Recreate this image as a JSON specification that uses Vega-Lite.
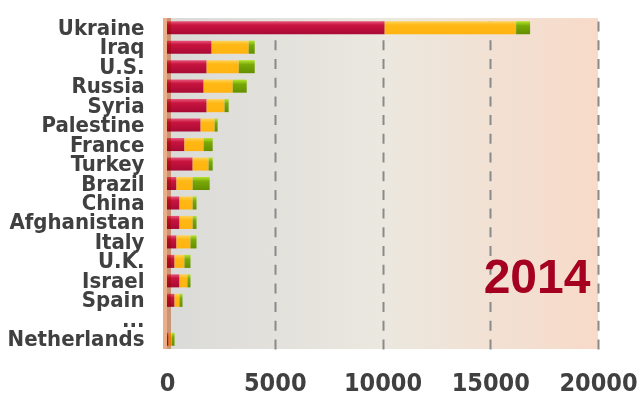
{
  "$schema": "https://vega.github.io/schema/vega-lite/v6.json",
  "autosize": "none",
  "width": 431,
  "height": 331,
  "padding": {"left": 167, "top": 18, "right": 41, "bottom": 46},
  "background": "white",
  "config": {
    "view": {
      "stroke": null,
      "fill": {"gradient": "linear", "x1": 0, "y1": 0, "x2": 1, "y2": 0,
        "stops": [
          {"offset": 0, "color": "#dadad8"},
          {"offset": 0.5, "color": "#ebe8df"},
          {"offset": 1, "color": "#f8dac8"}
        ]}
    },
    "axisY": {
      "title": null, "ticks": false, "domain": false, "grid": false,
      "labelFont": "DejaVu Sans Condensed", "labelFontWeight": "bold", "labelFontSize": 22,
      "labelColor": "#404040", "labelPadding": 23, "labelOverlap": false
    }
  },
  "datasets": {
    "bars": [
      {"country": "Ukraine", "s1": 10100, "s2": 16200, "s3": 16850},
      {"country": "Iraq", "s1": 2070, "s2": 3790, "s3": 4070},
      {"country": "U.S.", "s1": 1840, "s2": 3330, "s3": 4070},
      {"country": "Russia", "s1": 1700, "s2": 3050, "s3": 3700},
      {"country": "Syria", "s1": 1840, "s2": 2670, "s3": 2860},
      {"country": "Palestine", "s1": 1560, "s2": 2210, "s3": 2350},
      {"country": "France", "s1": 810, "s2": 1700, "s3": 2120},
      {"country": "Turkey", "s1": 1190, "s2": 1930, "s3": 2120},
      {"country": "Brazil", "s1": 440, "s2": 1190, "s3": 1980},
      {"country": "China", "s1": 580, "s2": 1190, "s3": 1370},
      {"country": "Afghanistan", "s1": 580, "s2": 1190, "s3": 1370},
      {"country": "Italy", "s1": 440, "s2": 1090, "s3": 1370},
      {"country": "U.K.", "s1": 350, "s2": 810, "s3": 1090},
      {"country": "Israel", "s1": 580, "s2": 950, "s3": 1090},
      {"country": "Spain", "s1": 350, "s2": 580, "s3": 720},
      {"country": "Netherlands", "s1": 70, "s2": 210, "s3": 350}
    ],
    "one": [{"year": "2014", "zero": 0, "pos": 19650, "row": "Israel"}]
  },
  "layer": [
    {
      "data": {"name": "bars"},
      "mark": {"type": "bar", "color": {"gradient": "linear", "x1": 0, "y1": 0, "x2": 0, "y2": 1,
        "stops": [
          {"offset": 0, "color": "#e8567a"},
          {"offset": 0.3, "color": "#c8143f"},
          {"offset": 1, "color": "#a80a35"}
        ]}},
      "encoding": {
        "y": {
          "field": "country", "type": "nominal",
          "scale": {
            "domain": ["Ukraine", "Iraq", "U.S.", "Russia", "Syria", "Palestine", "France", "Turkey", "Brazil", "China", "Afghanistan", "Italy", "U.K.", "Israel", "Spain", "...", "Netherlands"],
            "paddingInner": 0.33, "paddingOuter": 0.165
          }
        },
        "x": {"field": "s1", "type": "quantitative", "stack": null,
          "scale": {"domain": [0, 20000], "nice": false},
          "axis": {
            "title": null, "values": [0, 5000, 10000, 15000, 20000], "format": "d",
            "ticks": false, "domain": false, "labelFlush": false,
            "labelFont": "DejaVu Sans Condensed", "labelFontWeight": "bold", "labelFontSize": 25,
            "labelColor": "#404040", "labelPadding": 21,
            "grid": true, "gridColor": "#8a8a8a", "gridWidth": 2, "gridDash": [10, 8.7],
            "gridOpacity": {"condition": {"test": "datum.value === 0", "value": 0}, "value": 1}
          }}
      }
    },
    {
      "data": {"name": "bars"},
      "mark": {"type": "bar", "color": {"gradient": "linear", "x1": 0, "y1": 0, "x2": 0, "y2": 1,
        "stops": [
          {"offset": 0, "color": "#ffd45a"},
          {"offset": 0.3, "color": "#ffb815"},
          {"offset": 1, "color": "#ffb310"}
        ]}},
      "encoding": {
        "y": {"field": "country", "type": "nominal"},
        "x": {"field": "s1", "type": "quantitative"},
        "x2": {"field": "s2"}
      }
    },
    {
      "data": {"name": "bars"},
      "mark": {"type": "bar", "color": {"gradient": "linear", "x1": 0, "y1": 0, "x2": 0, "y2": 1,
        "stops": [
          {"offset": 0, "color": "#b4e52a"},
          {"offset": 0.35, "color": "#78a808"},
          {"offset": 1, "color": "#648f00"}
        ]}},
      "encoding": {
        "y": {"field": "country", "type": "nominal"},
        "x": {"field": "s2", "type": "quantitative"},
        "x2": {"field": "s3"}
      }
    },
    {
      "data": {"name": "one"},
      "mark": {"type": "rule", "color": "#ebae8a", "strokeWidth": 8, "blend": "multiply"},
      "encoding": {"x": {"field": "zero", "type": "quantitative"}}
    },
    {
      "data": {"name": "one"},
      "mark": {"type": "text", "font": "Liberation Sans", "fontWeight": "bold",
        "fontSize": 48, "color": "#a5001f", "align": "right", "baseline": "middle", "dy": -2},
      "encoding": {
        "x": {"field": "pos", "type": "quantitative"},
        "y": {"field": "row", "type": "nominal"},
        "text": {"field": "year"}
      }
    }
  ]
}
